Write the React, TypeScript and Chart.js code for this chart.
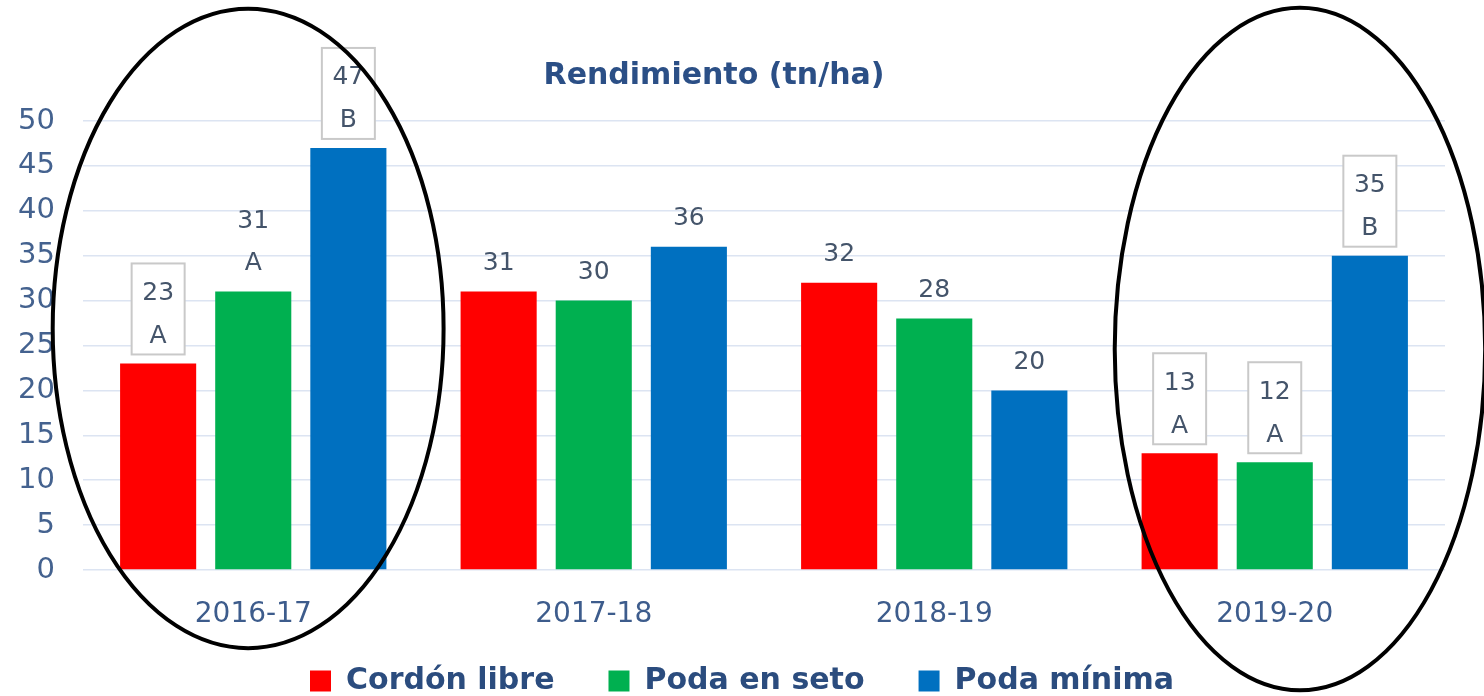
import React, { useEffect, useRef } from 'react';
import { Chart, registerables } from 'chart.js';

Chart.register(...registerables);

const TITLE = 'Rendimiento (tn/ha)';
const categories = ['2016-17', '2017-18', '2018-19', '2019-20'];
const seriesNames = ['Cordón libre', 'Poda en seto', 'Poda mínima'];
const cordonLibre = [23, 31, 32, 13];
const podaEnSeto = [31, 30, 28, 12];
const podaMinima = [47, 36, 20, 35];
const cordonLetters = ['A', '', '', 'A'];
const setoLetters = ['A', '', '', 'A'];
const minimaLetters = ['B', '', '', 'B'];
const cordonBoxed = [true, false, false, true];
const setoBoxed = [false, false, false, true];
const minimaBoxed = [true, false, false, true];
const yTickValues = [0, 5, 10, 15, 20, 25, 30, 35, 40, 45, 50];
const circledCategories = [0, 3];

const FONT = '"DejaVu Sans", "Open Sans", sans-serif';
const LABEL_COLOR = '#44546A';

// ellipse annotation geometry (relative to category width / value units)
const ellipseShapes = [
  { dx: -0.015, rx: 0.574, cy: 26.9, ry: 35.6 },
  { dx: 0.074, rx: 0.544, cy: 24.6, ry: 38 },
];

const titlePlugin = {
  id: 'customTitle',
  afterDraw(chart: any) {
    const { ctx, chartArea } = chart;
    ctx.save();
    ctx.font = `bold 30px ${FONT}`;
    ctx.fillStyle = '#2B4F86';
    ctx.textAlign = 'center';
    ctx.textBaseline = 'middle';
    ctx.fillText(TITLE, (chartArea.left + chartArea.right) / 2 - 50, 76);
    ctx.restore();
  },
};

const barLabelPlugin = {
  id: 'barLabels',
  afterDatasetsDraw(chart: any) {
    const ctx = chart.ctx;
    chart.data.datasets.forEach((ds: any, di: number) => {
      const meta = chart.getDatasetMeta(di);
      meta.data.forEach((bar: any, i: number) => {
        const value = String(ds.data[i]);
        const letter = ds.letters[i];
        const boxed = ds.boxed[i];
        const x = bar.x;
        const top = bar.y;
        ctx.save();
        ctx.font = `25px ${FONT}`;
        ctx.textAlign = 'center';
        ctx.textBaseline = 'middle';
        if (boxed) {
          const bottom = top - 9;
          const h = 91;
          const w = 53;
          ctx.fillStyle = '#ffffff';
          ctx.fillRect(x - w / 2, bottom - h, w, h);
          ctx.strokeStyle = '#C9C9C9';
          ctx.lineWidth = 2;
          ctx.strokeRect(x - w / 2, bottom - h, w, h);
          ctx.fillStyle = LABEL_COLOR;
          ctx.fillText(value, x, bottom - 61);
          ctx.fillText(letter, x, bottom - 18);
        } else if (letter) {
          ctx.fillStyle = LABEL_COLOR;
          ctx.fillText(value, x, top - 70);
          ctx.fillText(letter, x, top - 28);
        } else {
          ctx.fillStyle = LABEL_COLOR;
          ctx.fillText(value, x, top - 28);
        }
        ctx.restore();
      });
    });
  },
};

const ellipsePlugin = {
  id: 'ellipses',
  afterDraw(chart: any) {
    const { ctx } = chart;
    const xs = chart.scales.x;
    const ys = chart.scales.y;
    const catW = xs.getPixelForValue(1) - xs.getPixelForValue(0);
    ctx.save();
    ctx.strokeStyle = '#000000';
    ctx.lineWidth = 4;
    circledCategories.forEach((cat, k) => {
      const s = ellipseShapes[k];
      const cx = xs.getPixelForValue(cat) + s.dx * catW;
      const cy = ys.getPixelForValue(s.cy);
      const rx = s.rx * catW;
      const ry = Math.abs(ys.getPixelForValue(0) - ys.getPixelForValue(s.ry));
      ctx.beginPath();
      ctx.ellipse(cx, cy, rx, ry, 0, 0, Math.PI * 2);
      ctx.stroke();
    });
    ctx.restore();
  },
};

export default function App() {
  const ref = useRef<HTMLCanvasElement>(null);

  useEffect(() => {
    if (!ref.current) return;
    Chart.defaults.font.family = FONT;
    const chart = new Chart(ref.current, {
      type: 'bar',
      data: {
        labels: categories,
        datasets: [
          {
            label: seriesNames[0],
            data: cordonLibre,
            backgroundColor: '#FF0000',
            letters: cordonLetters,
            boxed: cordonBoxed,
          } as any,
          {
            label: seriesNames[1],
            data: podaEnSeto,
            backgroundColor: '#00B050',
            letters: setoLetters,
            boxed: setoBoxed,
          } as any,
          {
            label: seriesNames[2],
            data: podaMinima,
            backgroundColor: '#0070C0',
            letters: minimaLetters,
            boxed: minimaBoxed,
          } as any,
        ],
      },
      options: {
        responsive: false,
        animation: false,
        devicePixelRatio: 1,
        layout: { padding: { top: 121, left: 39, right: 39, bottom: -10 } },
        datasets: {
          bar: { categoryPercentage: 0.838, barPercentage: 0.8 },
        },
        plugins: {
          title: { display: false },
          tooltip: { enabled: false },
          legend: {
            position: 'bottom',
            labels: {
              font: { family: FONT, size: 30, weight: 'bold' },
              color: '#2B4C7E',
              boxWidth: 21,
              boxHeight: 21,
              padding: 54,
            },
          },
        },
        scales: {
          x: {
            grid: { display: false, drawTicks: false },
            border: { display: false },
            ticks: {
              color: '#3D5C8C',
              font: { family: FONT, size: 28 },
              padding: 28,
            },
            afterFit: (s: any) => {
              s.height = 42;
              s._computeLabelArea = () => undefined;
            },
          },
          y: {
            min: 0,
            max: 50,
            afterBuildTicks: (s: any) => {
              s.ticks = yTickValues.map((v) => ({ value: v }));
            },
            grid: { color: '#DCE4F2', lineWidth: 1.5, drawTicks: false },
            border: { display: false },
            ticks: {
              color: '#44628F',
              font: { family: FONT, size: 29 },
              padding: 28,
            },
            afterFit: (s: any) => {
              s.width = 44;
              s._computeLabelArea = () => undefined;
            },
          },
        },
      } as any,
      plugins: [barLabelPlugin, titlePlugin, ellipsePlugin],
    });
    return () => chart.destroy();
  }, []);

  return (
    <div style={{ position: 'fixed', left: 0, top: 0, width: 1484, height: 696, background: '#ffffff' }}>
      <canvas ref={ref} width={1484} height={696} />
    </div>
  );
}
